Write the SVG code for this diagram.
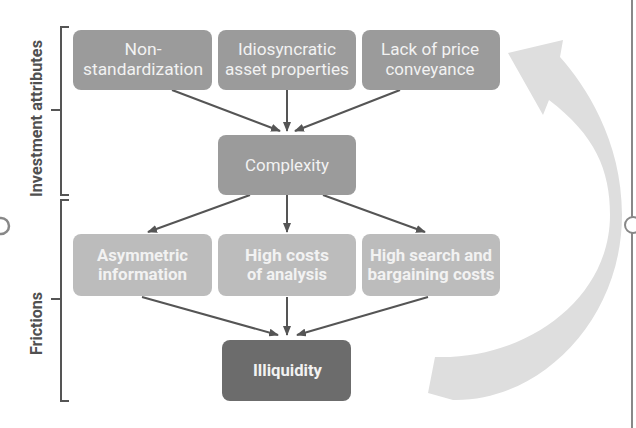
<svg xmlns="http://www.w3.org/2000/svg" width="636" height="428" viewBox="0 0 636 428">
<defs>
<marker id="ah" markerWidth="10" markerHeight="8" refX="9" refY="4" orient="auto" markerUnits="userSpaceOnUse">
<path d="M0,0 L10,4 L0,8 Z" fill="#555"/>
</marker>
<style>
.top{fill:#9b9b9b}
.mid{fill:#bcbcbc}
.dark{fill:#6c6c6c}
.t{font-family:Roboto,"Liberation Sans",sans-serif;font-size:17px;fill:#f2f2f2;text-anchor:middle}
.b{font-weight:bold;font-size:16px}
.lbl{font-family:Roboto,"Liberation Sans",sans-serif;font-size:17px;fill:#505050;text-anchor:middle;font-weight:bold}
.br{fill:none;stroke:#555;stroke-width:2}
.c{stroke:#555;stroke-width:2;fill:none;marker-end:url(#ah)}
</style>
</defs>
<rect width="636" height="428" fill="#fff"/>
<g id="cycle-arrow">
<path d="M508,53 L563,40 L560,57 C585,85 622,140 622,215 C622,320 540,402 453,400 L428,393 L435,357 C525,360 610,300 610,215 C610,170 595,135 549,100 L543,115 Z" fill="#dedede"/>
</g>
<g id="scrollbar">
<line x1="632" y1="0" x2="632" y2="428" stroke="#888" stroke-width="2"/>
<circle cx="633" cy="225" r="8" fill="#fff" stroke="#888" stroke-width="2"/>
<circle cx="1" cy="226" r="8" fill="none" stroke="#888" stroke-width="2.5"/>
</g>
<g id="bracket-investment">
<path class="br" d="M69,27 L61,27 L61,195 L69,195 M61,110 L51,110"/>
<text class="lbl" transform="translate(42,118.5) rotate(-90)" textLength="157" lengthAdjust="spacingAndGlyphs">Investment attributes</text>
</g>
<g id="bracket-frictions">
<path class="br" d="M69,200 L61,200 L61,401 L69,401 M61,299 L51,299"/>
<text class="lbl" transform="translate(42,323.5) rotate(-90)" textLength="63" lengthAdjust="spacingAndGlyphs">Frictions</text>
</g>
<g id="connectors">
<line class="c" x1="172" y1="90" x2="280" y2="131"/>
<line class="c" x1="287" y1="90" x2="287" y2="131"/>
<line class="c" x1="400" y1="90" x2="295" y2="131"/>
<line class="c" x1="250" y1="195" x2="148" y2="232"/>
<line class="c" x1="287" y1="195" x2="287" y2="232"/>
<line class="c" x1="323" y1="195" x2="425" y2="232"/>
<line class="c" x1="142" y1="297" x2="278" y2="335"/>
<line class="c" x1="287" y1="297" x2="287" y2="335"/>
<line class="c" x1="428" y1="297" x2="297" y2="335"/>
</g>
<g id="node-nonstandardization">
<rect class="top" x="73" y="30" width="139" height="60" rx="8"/>
<text class="t" x="143" y="55" textLength="37" lengthAdjust="spacingAndGlyphs">Non-</text>
<text class="t" x="143" y="75" textLength="120" lengthAdjust="spacingAndGlyphs">standardization</text>
</g>
<g id="node-idiosyncratic">
<rect class="top" x="218" y="30" width="138" height="60" rx="8"/>
<text class="t" x="287" y="55" textLength="98" lengthAdjust="spacingAndGlyphs">Idiosyncratic</text>
<text class="t" x="287" y="75" textLength="124" lengthAdjust="spacingAndGlyphs">asset properties</text>
</g>
<g id="node-lackofprice">
<rect class="top" x="362" y="30" width="138" height="60" rx="8"/>
<text class="t" x="430" y="55" textLength="98" lengthAdjust="spacingAndGlyphs">Lack of price</text>
<text class="t" x="430" y="75" textLength="89" lengthAdjust="spacingAndGlyphs">conveyance</text>
</g>
<g id="node-complexity">
<rect class="top" x="218" y="135" width="138" height="60" rx="8"/>
<text class="t" x="287" y="171" textLength="84" lengthAdjust="spacingAndGlyphs">Complexity</text>
</g>
<g id="node-asymmetric">
<rect class="mid" x="73" y="234" width="139" height="62" rx="8"/>
<text class="t b" x="142.5" y="261" textLength="91" lengthAdjust="spacingAndGlyphs">Asymmetric</text>
<text class="t b" x="142.5" y="280" textLength="89" lengthAdjust="spacingAndGlyphs">information</text>
</g>
<g id="node-highcosts">
<rect class="mid" x="218" y="234" width="138" height="62" rx="8"/>
<text class="t b" x="287" y="261" textLength="84" lengthAdjust="spacingAndGlyphs">High costs</text>
<text class="t b" x="287" y="280" textLength="80" lengthAdjust="spacingAndGlyphs">of analysis</text>
</g>
<g id="node-highsearch">
<rect class="mid" x="362" y="234" width="138" height="62" rx="8"/>
<text class="t b" x="431" y="261" textLength="122" lengthAdjust="spacingAndGlyphs">High search and</text>
<text class="t b" x="431" y="280" textLength="127" lengthAdjust="spacingAndGlyphs">bargaining costs</text>
</g>
<g id="node-illiquidity">
<rect class="dark" x="222" y="340" width="129" height="61" rx="8"/>
<text class="t b" x="287.5" y="376" textLength="69" lengthAdjust="spacingAndGlyphs">Illiquidity</text>
</g>
</svg>
